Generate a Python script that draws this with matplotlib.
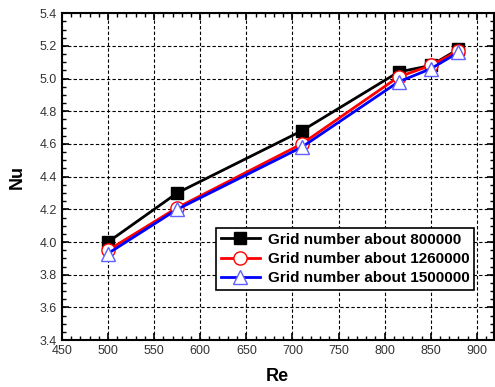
import matplotlib
matplotlib.use("Agg")
import matplotlib.pyplot as plt
from matplotlib.ticker import MultipleLocator

plt.rcParams.update({"font.family": ["Liberation Sans", "DejaVu Sans"], "figure.dpi": 100})

re = [500, 575, 710, 815, 850, 880]
nu_800k = [4.00, 4.30, 4.68, 5.04, 5.08, 5.18]
nu_1260k = [3.95, 4.21, 4.60, 5.01, 5.08, 5.17]
nu_1500k = [3.93, 4.20, 4.58, 4.98, 5.06, 5.16]
labels = ["Grid number about 800000", "Grid number about 1260000",
          "Grid number about 1500000"]

fig = plt.figure(figsize=(4.95, 3.87))
ax = fig.add_axes([0.125, 0.121, 0.872, 0.845])

ax.plot(re, nu_800k, color="black", lw=2, marker="s", ms=8.5, mfc="black",
        mec="black", label=labels[0], zorder=3)
ax.plot(re, nu_1260k, color="red", lw=2, marker="o", ms=9.5, mfc="white",
        mec="red", mew=1, label=labels[1], zorder=4)
ax.plot(re, nu_1500k, color="blue", lw=2, marker="^", ms=10, mfc="white",
        mec="#6060ff", mew=1, label=labels[2], zorder=5)

ax.set_xlim(450, 918)
ax.set_ylim(3.4, 5.4)
ax.xaxis.set_major_locator(MultipleLocator(50))
ax.xaxis.set_minor_locator(MultipleLocator(10))
ax.yaxis.set_major_locator(MultipleLocator(0.2))
ax.yaxis.set_minor_locator(MultipleLocator(0.05))
ax.yaxis.set_major_formatter(plt.FormatStrFormatter("%.1f"))
ax.tick_params(which="both", direction="in", top=True, right=True,
               labelsize=9, labelcolor="#333333")
ax.tick_params(which="major", length=5, width=1.2)
ax.tick_params(which="minor", length=3, width=1)
for s in ax.spines.values():
    s.set_linewidth(1.5)
ax.grid(True, which="major", ls=(0, (3, 2)), color="black", lw=0.8)

ax.set_xlabel("Re", fontsize=13, fontweight="bold", labelpad=8)
ax.set_ylabel("Nu", fontsize=13, fontweight="bold", labelpad=10)

leg = ax.legend(loc="upper left", bbox_to_anchor=(0.357, 0.343), fancybox=False,
                framealpha=1, edgecolor="black", prop={"weight": "bold", "size": 11},
                handlelength=2.6, borderpad=0.3, labelspacing=0.35, handletextpad=0.5,
                borderaxespad=0)
leg.get_frame().set_linewidth(1.2)

fig.savefig("out.png", dpi=100)
